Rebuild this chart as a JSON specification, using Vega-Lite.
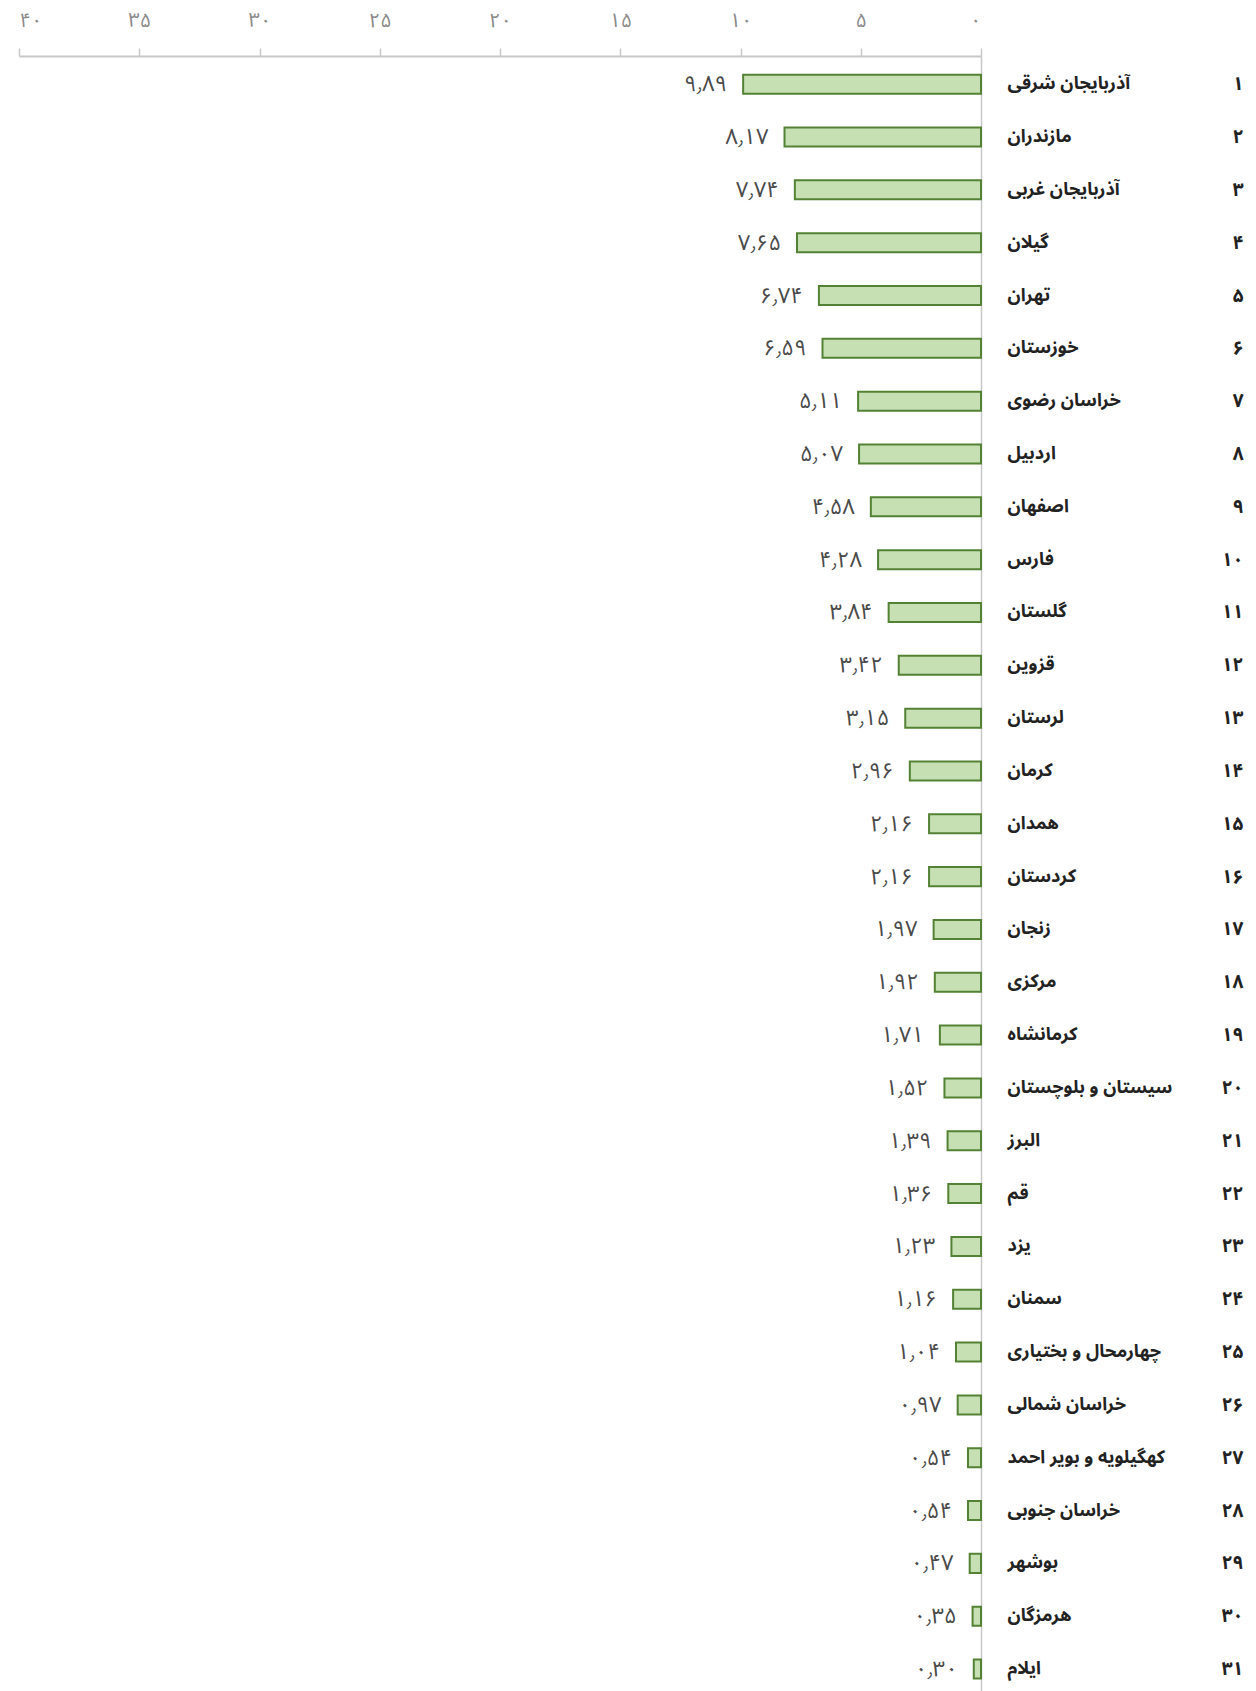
{
  "$schema": "https://vega.github.io/schema/vega-lite/v6.json",
  "width": 962,
  "height": 1635,
  "autosize": {"type": "none"},
  "padding": {"left": 19, "top": 56, "right": 275, "bottom": 0},
  "background": "white",
  "config": {"view": {"stroke": null}},
  "data": {"values": [
    {"r":1,"rank":"۱","name":"آذربایجان شرقی","value":9.89,"label":"۹٫۸۹"},
    {"r":2,"rank":"۲","name":"مازندران","value":8.17,"label":"۸٫۱۷"},
    {"r":3,"rank":"۳","name":"آذربایجان غربی","value":7.74,"label":"۷٫۷۴"},
    {"r":4,"rank":"۴","name":"گیلان","value":7.65,"label":"۷٫۶۵"},
    {"r":5,"rank":"۵","name":"تهران","value":6.74,"label":"۶٫۷۴"},
    {"r":6,"rank":"۶","name":"خوزستان","value":6.59,"label":"۶٫۵۹"},
    {"r":7,"rank":"۷","name":"خراسان رضوی","value":5.11,"label":"۵٫۱۱"},
    {"r":8,"rank":"۸","name":"اردبیل","value":5.07,"label":"۵٫۰۷"},
    {"r":9,"rank":"۹","name":"اصفهان","value":4.58,"label":"۴٫۵۸"},
    {"r":10,"rank":"۱۰","name":"فارس","value":4.28,"label":"۴٫۲۸"},
    {"r":11,"rank":"۱۱","name":"گلستان","value":3.84,"label":"۳٫۸۴"},
    {"r":12,"rank":"۱۲","name":"قزوین","value":3.42,"label":"۳٫۴۲"},
    {"r":13,"rank":"۱۳","name":"لرستان","value":3.15,"label":"۳٫۱۵"},
    {"r":14,"rank":"۱۴","name":"کرمان","value":2.96,"label":"۲٫۹۶"},
    {"r":15,"rank":"۱۵","name":"همدان","value":2.16,"label":"۲٫۱۶"},
    {"r":16,"rank":"۱۶","name":"کردستان","value":2.16,"label":"۲٫۱۶"},
    {"r":17,"rank":"۱۷","name":"زنجان","value":1.97,"label":"۱٫۹۷"},
    {"r":18,"rank":"۱۸","name":"مرکزی","value":1.92,"label":"۱٫۹۲"},
    {"r":19,"rank":"۱۹","name":"کرمانشاه","value":1.71,"label":"۱٫۷۱"},
    {"r":20,"rank":"۲۰","name":"سیستان و بلوچستان","value":1.52,"label":"۱٫۵۲"},
    {"r":21,"rank":"۲۱","name":"البرز","value":1.39,"label":"۱٫۳۹"},
    {"r":22,"rank":"۲۲","name":"قم","value":1.36,"label":"۱٫۳۶"},
    {"r":23,"rank":"۲۳","name":"یزد","value":1.23,"label":"۱٫۲۳"},
    {"r":24,"rank":"۲۴","name":"سمنان","value":1.16,"label":"۱٫۱۶"},
    {"r":25,"rank":"۲۵","name":"چهارمحال و بختیاری","value":1.04,"label":"۱٫۰۴"},
    {"r":26,"rank":"۲۶","name":"خراسان شمالی","value":0.97,"label":"۰٫۹۷"},
    {"r":27,"rank":"۲۷","name":"کهگیلویه و بویر احمد","value":0.54,"label":"۰٫۵۴"},
    {"r":28,"rank":"۲۸","name":"خراسان جنوبی","value":0.54,"label":"۰٫۵۴"},
    {"r":29,"rank":"۲۹","name":"بوشهر","value":0.47,"label":"۰٫۴۷"},
    {"r":30,"rank":"۳۰","name":"هرمزگان","value":0.35,"label":"۰٫۳۵"},
    {"r":31,"rank":"۳۱","name":"ایلام","value":0.30,"label":"۰٫۳۰"}
  ]},
  "layer": [
    {
      "mark": {"type": "bar", "fill": "#c6e0b4", "stroke": "#548235", "strokeWidth": 2},
      "encoding": {
        "x": {
          "field": "value", "type": "quantitative",
          "scale": {"domain": [0, 40], "reverse": true, "nice": false},
          "axis": {
            "orient": "top", "title": null, "values": [0,5,10,15,20,25,30,35,40],
            "grid": false, "domainColor": "#c8c8c8", "domainWidth": 2,
            "tickColor": "#c8c8c8", "tickSize": 8, "tickWidth": 1.5,
            "labelFont": "Noto Sans Arabic, DejaVu Sans", "labelFontSize": 20, "labelColor": "#8a8a8a",
            "labelPadding": 18,
            "labelExpr": "replace(replace(replace(replace(replace(replace(datum.label, regexp('0','g'), '۰'), regexp('1','g'), '۱'), regexp('2','g'), '۲'), regexp('3','g'), '۳'), regexp('4','g'), '۴'), regexp('5','g'), '۵')"
          }
        },
        "y": {
          "field": "name", "type": "nominal",
          "sort": {"field": "r", "op": "min", "order": "ascending"},
          "scale": {"type": "band", "paddingInner": 0.64, "paddingOuter": 0.295, "align": 0.6},
          "axis": {
            "orient": "right", "title": null, "ticks": false, "grid": false,
            "domain": true, "domainColor": "#c8c8c8", "domainWidth": 1.5,
            "labelAlign": "left", "labelPadding": 26, "labelBaseline": "middle",
            "labelFont": "Noto Sans Arabic, DejaVu Sans", "labelFontWeight": "bold", "labelFontSize": 18,
            "labelColor": "#222222", "labelLimit": 0
          }
        }
      }
    },
    {
      "mark": {"type": "text", "align": "right", "baseline": "middle", "dx": -16, "font": "Noto Sans Arabic, DejaVu Sans", "fontSize": 22, "color": "#4a4a4a"},
      "encoding": {
        "x": {"field": "value", "type": "quantitative"},
        "y": {
          "field": "rank", "type": "nominal",
          "sort": {"field": "r", "op": "min", "order": "ascending"},
          "scale": {"type": "band", "paddingInner": 0.64, "paddingOuter": 0.295, "align": 0.6},
          "axis": {
            "orient": "right", "title": null, "ticks": false, "grid": false, "domain": false,
            "labelAlign": "right", "labelPadding": 262, "labelBaseline": "middle",
            "labelFont": "Noto Sans Arabic, DejaVu Sans", "labelFontWeight": "bold", "labelFontSize": 19,
            "labelColor": "#222222"
          }
        },
        "text": {"field": "label", "type": "nominal"}
      }
    }
  ],
  "resolve": {"scale": {"y": "independent"}}
}
